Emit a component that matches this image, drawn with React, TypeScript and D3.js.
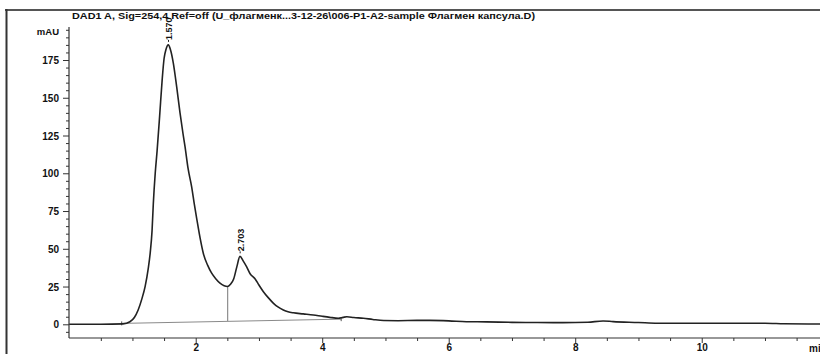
import React, { useEffect, useRef } from "react";
import * as d3 from "d3";

const title = "DAD1 A, Sig=254,4 Ref=off (U_флагменк...3-12-26\\006-P1-A2-sample Флагмен капсула.D)";
const yLabel = "mAU";
const xUnit = "min";

const times = [0, 0.5, 0.85, 0.96, 1.03, 1.09, 1.15, 1.2, 1.25, 1.28, 1.31, 1.33, 1.36, 1.39, 1.43, 1.47, 1.5, 1.53, 1.567, 1.6, 1.646, 1.7, 1.752, 1.8, 1.83, 1.88, 1.936, 1.98, 2.02, 2.07, 2.12, 2.19, 2.25, 2.32, 2.384, 2.45, 2.5, 2.55, 2.6, 2.65, 2.7, 2.75, 2.806, 2.86, 2.94, 3.0, 3.07, 3.15, 3.23, 3.3, 3.385, 3.46, 3.543, 3.7, 3.86, 4.0, 4.12, 4.255, 4.33, 4.39, 4.5, 4.65, 4.8, 4.97, 5.2, 5.5, 5.7, 6.0, 6.28, 6.6, 7.0, 7.4, 7.8, 8.2, 8.44, 8.6, 9.0, 9.3, 10.0, 11.0, 11.3, 11.9];
const signal = [0, 0, 0.3, 1.7, 4.5, 9.5, 17, 25, 37, 47, 62, 80, 100, 115, 138, 162, 176, 182, 185, 182, 173, 157, 140, 126, 118, 103, 91, 79, 69, 57, 47, 39, 34, 30, 27.2, 25.5, 25, 26.5, 30, 38, 45, 42, 38, 33.5, 30, 26, 21.6, 17.5, 13.9, 11.5, 9.5, 8.3, 7.6, 6.9, 6.2, 5.3, 4.6, 4.0, 4.6, 5.0, 4.5, 4.0, 3.2, 2.5, 2.4, 2.6, 2.6, 2.3, 1.7, 1.6, 1.3, 1.2, 1.1, 1.4, 2.2, 1.8, 1.2, 0.7, 0.7, 0.7, 0.4, 0.2];

const peakTimes = [1.57, 2.703];
const peakValues = [185, 45];
const peakLabels = ["1.570", "2.703"];

const baselineTimes = [0.83, 4.3];
const baselineValues = [0.6, 3.4];
const dropTime = 2.506;
const dropTop = 25;
const dropBottom = 2.2;

const yMajor = [0, 25, 50, 75, 100, 125, 150, 175];
const xMajor = [2, 4, 6, 8, 10];

export default function App() {
  const ref = useRef<SVGSVGElement>(null);
  useEffect(() => {
    const svg = d3.select(ref.current);
    svg.selectAll("*").remove();
    const x = d3.scaleLinear().domain([0, 11.87]).range([69.2, 820]);
    const y = d3.scaleLinear().domain([0, 175]).range([324.3, 60]);
    const font = "'Liberation Sans', Arial, sans-serif";

    // frame
    svg.append("line").attr("x1", 5).attr("x2", 820).attr("y1", 10).attr("y2", 10).attr("stroke", "#555").attr("stroke-width", 2);
    svg.append("line").attr("x1", 6.5).attr("x2", 6.5).attr("y1", 9).attr("y2", 354).attr("stroke", "#333").attr("stroke-width", 2);

    svg.append("text").attr("x", 72).attr("y", 18.5).attr("font-family", font).attr("font-weight", "bold").attr("font-size", 9).attr("textLength", 463).attr("lengthAdjust", "spacingAndGlyphs").attr("fill", "#111").text(title);

    // y axis
    const yTop = y.invert(27), yBot = y.invert(338);
    const minor = d3.range(-5, 196, 5).filter(v => v % 25 !== 0);
    const yAxisMinor = d3.axisLeft(y).tickValues(minor).tickSize(3).tickFormat(() => "");
    const yAxisMajor = d3.axisLeft(y).tickValues(yMajor).tickSize(6).tickPadding(4);
    const gm = svg.append("g").attr("transform", "translate(69,0)").call(yAxisMinor);
    gm.select(".domain").remove();
    const gM = svg.append("g").attr("transform", "translate(69,0)").call(yAxisMajor);
    gM.select(".domain").remove();
    svg.selectAll(".tick line").attr("stroke", "#333").attr("stroke-width", 1);
    gM.selectAll("text").attr("font-family", font).attr("font-weight", "bold").attr("font-size", 10).attr("fill", "#111").attr("dy", "0.35em");
    svg.append("line").attr("x1", 69).attr("x2", 69).attr("y1", y(yTop)).attr("y2", y(yBot)).attr("stroke", "#333").attr("stroke-width", 1.2);
    svg.append("text").attr("x", 59).attr("y", 34.5).attr("text-anchor", "end").attr("font-family", font).attr("font-weight", "bold").attr("font-size", 9.5).attr("fill", "#111").text(yLabel);

    // x axis
    const xAxisMinor = d3.axisBottom(x).tickValues(d3.range(0.5, 11.9, 0.5).filter(v => v % 2 !== 0)).tickSize(3).tickFormat(() => "");
    const xAxisMajor = d3.axisBottom(x).tickValues(xMajor).tickSize(5).tickPadding(3).tickFormat(d3.format("d"));
    const xm = svg.append("g").attr("transform", "translate(0,338)").call(xAxisMinor);
    xm.select(".domain").remove();
    const xM = svg.append("g").attr("transform", "translate(0,338)").call(xAxisMajor);
    xM.select(".domain").remove();
    svg.selectAll(".tick line").attr("stroke", "#333");
    xM.selectAll("text").attr("font-family", font).attr("font-weight", "bold").attr("font-size", 10).attr("fill", "#111").attr("dy", "0.45em");
    svg.append("line").attr("x1", 69).attr("x2", 820).attr("y1", 338).attr("y2", 338).attr("stroke", "#333").attr("stroke-width", 1.2);
    svg.append("text").attr("x", 809).attr("y", 352).attr("font-family", font).attr("font-weight", "bold").attr("font-size", 10).attr("fill", "#111").text(xUnit);

    // baseline
    svg.append("line").attr("x1", x(baselineTimes[0])).attr("x2", x(baselineTimes[1])).attr("y1", y(baselineValues[0])).attr("y2", y(baselineValues[1])).attr("stroke", "#8a8a8a").attr("stroke-width", 1);
    baselineTimes.forEach((t, i) => {
      svg.append("line").attr("x1", x(t)).attr("x2", x(t)).attr("y1", y(baselineValues[i]) - 2).attr("y2", y(baselineValues[i]) + 2).attr("stroke", "#555");
    });
    svg.append("line").attr("x1", x(dropTime)).attr("x2", x(dropTime)).attr("y1", y(dropTop)).attr("y2", y(dropBottom)).attr("stroke", "#777").attr("stroke-width", 1);

    // signal
    const data = times.map((t, i) => [t, signal[i]] as [number, number]);
    const line = d3.line<[number, number]>().x(d => x(d[0])).y(d => y(d[1])).curve(d3.curveMonotoneX);
    svg.append("path").attr("d", line(data)!).attr("fill", "none").attr("stroke", "#222").attr("stroke-width", 1.6);

    // peak labels
    peakTimes.forEach((t, i) => {
      const px = x(t), py = y(peakValues[i]) - 3;
      svg.append("line").attr("x1", px).attr("x2", px).attr("y1", py).attr("y2", py - 2).attr("stroke", "#222");
      svg.append("text").attr("transform", `translate(${px + 3.5},${py - 2}) rotate(-90)`).attr("font-family", font).attr("font-weight", "bold").attr("font-size", 9).attr("fill", "#111").text(peakLabels[i]);
    });
  }, []);
  return <svg ref={ref} width={820} height={354} style={{ position: "absolute", left: 0, top: 0, background: "#fff" }} />;
}
